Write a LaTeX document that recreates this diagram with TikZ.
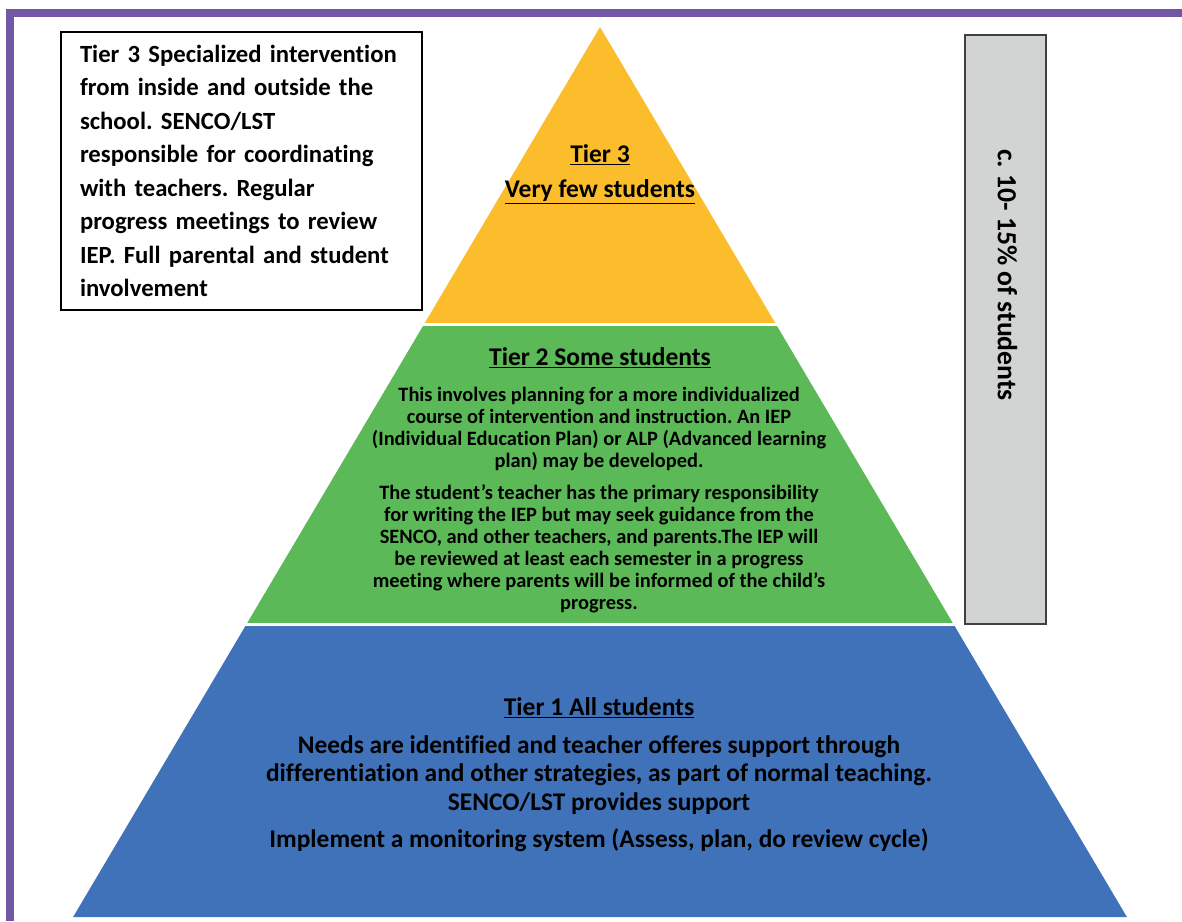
\documentclass[tikz,border=0pt]{standalone}
\usepackage{fontspec}
\setmainfont{Carlito}[Ligatures=NoCommon]
\frenchspacing
\definecolor{framepurple}{HTML}{7257A4}
\definecolor{tierthree}{HTML}{FBBD2B}
\definecolor{tiertwo}{HTML}{5CB957}
\definecolor{tierone}{HTML}{3F72B9}
\definecolor{sharegray}{HTML}{D2D4D3}
\definecolor{edgegray}{HTML}{404040}
\begin{document}
\begin{tikzpicture}[x=1pt,y=-1pt,
  every node/.style={inner sep=0pt, outer sep=0pt, font=\bfseries, text=black},
  title/.style={font=\bfseries\fontsize{25.5}{28}\selectfont},
  body/.style={font=\bfseries\fontsize{25.4}{28.5}\selectfont, align=center},
  small/.style={font=\bfseries\fontsize{20.4}{22}\selectfont, align=center},
  notebox/.style={draw=black, line width=1.2pt, fill=white, minimum width=361pt,
    minimum height=278pt, text width=323pt, align=left,
    font=\bfseries\fontsize{24.7}{33.5}\selectfont},
  sharebox/.style={draw=edgegray, line width=1.6pt, fill=sharegray,
    minimum width=81pt, minimum height=589pt}]
\useasboundingbox (0,0) rectangle (1182,921);
% page frame
\fill[framepurple] (6,9) rectangle (1182,17);
\fill[framepurple] (6,9) rectangle (14,921);
% pyramid tiers (apex at 600,27; sides drop 0.592 per unit)
\coordinate (apex) at (600,27);
\fill[tierthree] (apex) -- (776.1,324.5) -- (423.9,324.5) -- cycle;
\fill[tiertwo] (423.9,324.5) -- (776.1,324.5) -- (953.7,624.5) -- (246.3,624.5) -- cycle;
\fill[tierone] (246.3,624.5) -- (953.7,624.5) -- (1126.9,917) -- (73.1,917) -- cycle;
\draw[white, line width=3pt] (380,324.5) -- (820,324.5);
\draw[white, line width=3pt] (200,624.5) -- (1000,624.5);
% tier 3 labels
\node[title] (t3a) at (600,155) {\underline{Tier 3}};
\node[title] (t3b) at (600,192) {\underline{Very few students}};
% tier 2 labels
\node[title] (t2) at (600,358) {\underline{Tier 2 Some students}};
\node[small] (t2a) at (599,428.5) {This involves planning for a more individualized\\
course of intervention and instruction. An IEP\\
(Individual Education Plan) or ALP (Advanced learning\\
plan) may be developed.};
\node[small] (t2b) at (599,549) {The student’s teacher has the primary responsibility\\
for writing the IEP but may seek guidance from the\\
SENCO, and other teachers, and parents.The IEP will\\
be reviewed at least each semester in a progress\\
meeting where parents will be informed of the child’s\\
progress.};
% tier 1 labels
\node[title] (t1) at (599,708) {\underline{Tier 1 All students}};
\node[body] (t1a) at (599,775) {Needs are identified and teacher offeres support through\\
differentiation and other strategies, as part of normal teaching.\\
SENCO/LST provides support};
\node[body] (t1b) at (599,840) {Implement a monitoring system (Assess, plan, do review cycle)};
% side note for tier 3
\node[notebox] (note) at (241.5,171) {Tier 3 Specialized intervention\\
from inside and outside the\\
school. SENCO/LST\\
responsible for coordinating\\
with teachers. Regular\\
progress meetings to review\\
IEP. Full parental and student\\
involvement};
% share of students
\node[sharebox] (share) at (1005.5,329.5) {};
\node[font=\bfseries\fontsize{27.7}{30}\selectfont, rotate=-90] (sharetext) at (1007.5,275) {c. 10- 15\% of students};
\end{tikzpicture}
\end{document}
